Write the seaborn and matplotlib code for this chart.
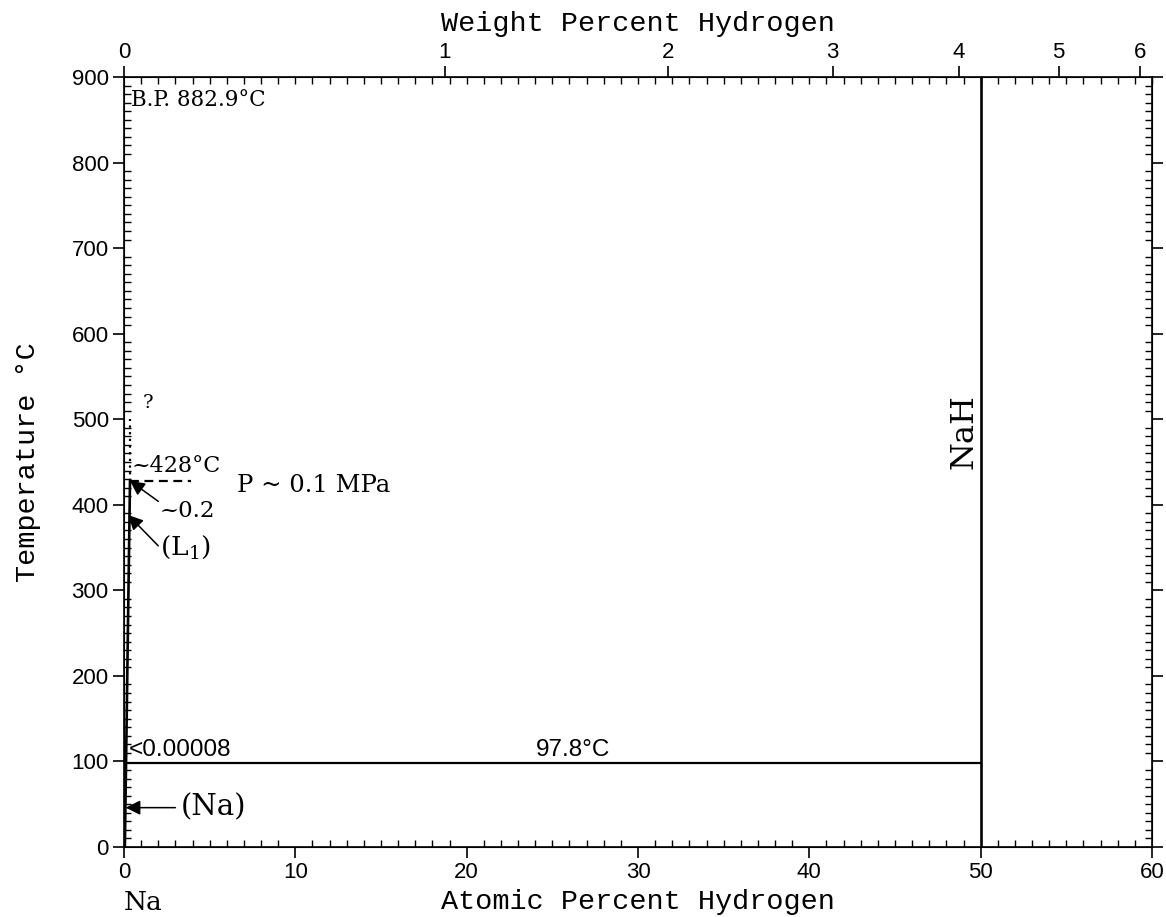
import matplotlib
matplotlib.use("Agg")
import matplotlib.pyplot as plt
from matplotlib.ticker import MultipleLocator, FixedLocator
import numpy as np
import pandas as pd
import seaborn as sns

sns.set_style("ticks", {'axes.edgecolor': 'black', 'xtick.color': 'black',
                        'ytick.color': 'black', 'text.color': 'black',
                        'axes.labelcolor': 'black'})
plt.rcParams['font.family'] = ['Liberation Sans', 'DejaVu Sans']
plt.rcParams['mathtext.fontset'] = 'dejavuserif'

# phase boundaries (atomic percent H, temperature in C)
na_solvus_x = [0.05, 0.12]
na_solvus_y = [0, 97.8]
liquidus_x = [0.12, 0.35]
liquidus_y = [97.8, 428]
eutectic_x = [0, 50]
eutectic_y = [97.8, 97.8]
nah_x = [50, 50]
nah_y = [0, 900]
dotted_x = [0.35, 0.35]
dotted_y = [428, 500]
dashed_x = [0.35, 3.9]
dashed_y = [428, 428]

wt_ticks = [0, 1, 2, 3, 4, 5, 6]
M_NA, M_H = 22.99, 1.008


def wt_to_at(w):
    w = np.asarray(w, dtype=float)
    nh = w / M_H
    nna = (100 - w) / M_NA
    return nh / (nh + nna) * 100


fig = plt.figure(figsize=(11.66, 9.17), dpi=100)
ax = fig.add_axes([124 / 1166, 1 - 847 / 917, 1028 / 1166, 770 / 917])

solid = dict(color='black', lw=1.9, sort=False, estimator=None)
sns.lineplot(x=na_solvus_x, y=na_solvus_y, ax=ax, **solid)
sns.lineplot(x=liquidus_x, y=liquidus_y, ax=ax, **solid)
sns.lineplot(x=eutectic_x, y=eutectic_y, ax=ax, color='black', lw=1.6,
             sort=False, estimator=None)
sns.lineplot(x=nah_x, y=nah_y, ax=ax, **solid)
sns.lineplot(x=dotted_x, y=dotted_y, ax=ax, color='black', lw=1.6,
             linestyle=(0, (1, 2)), sort=False, estimator=None)
sns.lineplot(x=dashed_x, y=dashed_y, ax=ax, color='black', lw=1.6,
             linestyle=(0, (4, 2.5)), sort=False, estimator=None)

ax.set_xlim(0, 60)
ax.set_ylim(0, 900)
ax.xaxis.set_major_locator(MultipleLocator(10))
ax.xaxis.set_minor_locator(MultipleLocator(1))
ax.yaxis.set_major_locator(MultipleLocator(100))
ax.yaxis.set_minor_locator(MultipleLocator(10))
ax.tick_params(which='major', direction='out', length=8, width=1.2,
               labelsize=16, right=True, top=False, pad=3)
ax.tick_params(which='minor', direction='in', length=5, width=1,
               right=True, top=False)
for s in ax.spines.values():
    s.set_visible(True)
    s.set_linewidth(1.2)

lab_font = dict(family='Liberation Mono', fontsize=20.5)
ax.set_xlabel('Atomic Percent Hydrogen', labelpad=4, **lab_font)
ax.set_ylabel('Temperature °C', labelpad=22, **lab_font)

ax2 = ax.twiny()
ax2.set_xlim(0, 60)
ax2.xaxis.set_major_locator(FixedLocator(wt_to_at(wt_ticks)))
ax2.set_xticklabels([str(w) for w in wt_ticks])
ax2.xaxis.set_minor_locator(MultipleLocator(1))
ax2.tick_params(which='major', direction='out', length=8, width=1.2,
                labelsize=16, pad=2)
ax2.tick_params(which='minor', direction='in', length=5, width=1)
ax2.set_xlabel('Weight Percent Hydrogen', labelpad=8, **lab_font)

serif = dict(family='DejaVu Serif', color='black')
ax.text(0.4, 873, 'B.P. 882.9°C', fontsize=15.5, va='center', ha='left', **serif)
ax.text(1.1, 508, '?', fontsize=14, va='bottom', ha='left', **serif)
ax.text(0.45, 432, '~428°C', fontsize=16, va='bottom', ha='left', **serif)
ax.text(6.6, 422, 'P ~ 0.1 MPa', fontsize=17.5, va='center', ha='left', **serif)
ax.text(2.1, 393, '~0.2', fontsize=16.5, va='center', ha='left', **serif)
ax.text(2.1, 350, '(L$_1$)', fontsize=19, va='center', ha='left', **serif)
ax.text(0.3, 100, '<0.00008', fontsize=17.5, va='bottom', ha='left')
ax.text(26.2, 100, '97.8°C', fontsize=17.5, va='bottom', ha='center')
ax.text(3.3, 46, '(Na)', fontsize=21, va='center', ha='left', **serif)
ax.text(49.0, 485, 'NaH', fontsize=23, va='center', ha='center',
        rotation=90, **serif)
ax.text(1.1, -65, 'Na', fontsize=19, va='center', ha='center', **serif)

arrow = dict(arrowstyle='-|>', color='black', lw=1.1, mutation_scale=22,
             shrinkA=0, shrinkB=0)
ax.annotate('', xy=(0.35, 428), xytext=(2.0, 404), arrowprops=arrow)
ax.annotate('', xy=(0.25, 388), xytext=(2.0, 352), arrowprops=arrow)
ax.annotate('', xy=(0.1, 46), xytext=(3.0, 46), arrowprops=arrow)

fig.savefig('out.png', dpi=100)
